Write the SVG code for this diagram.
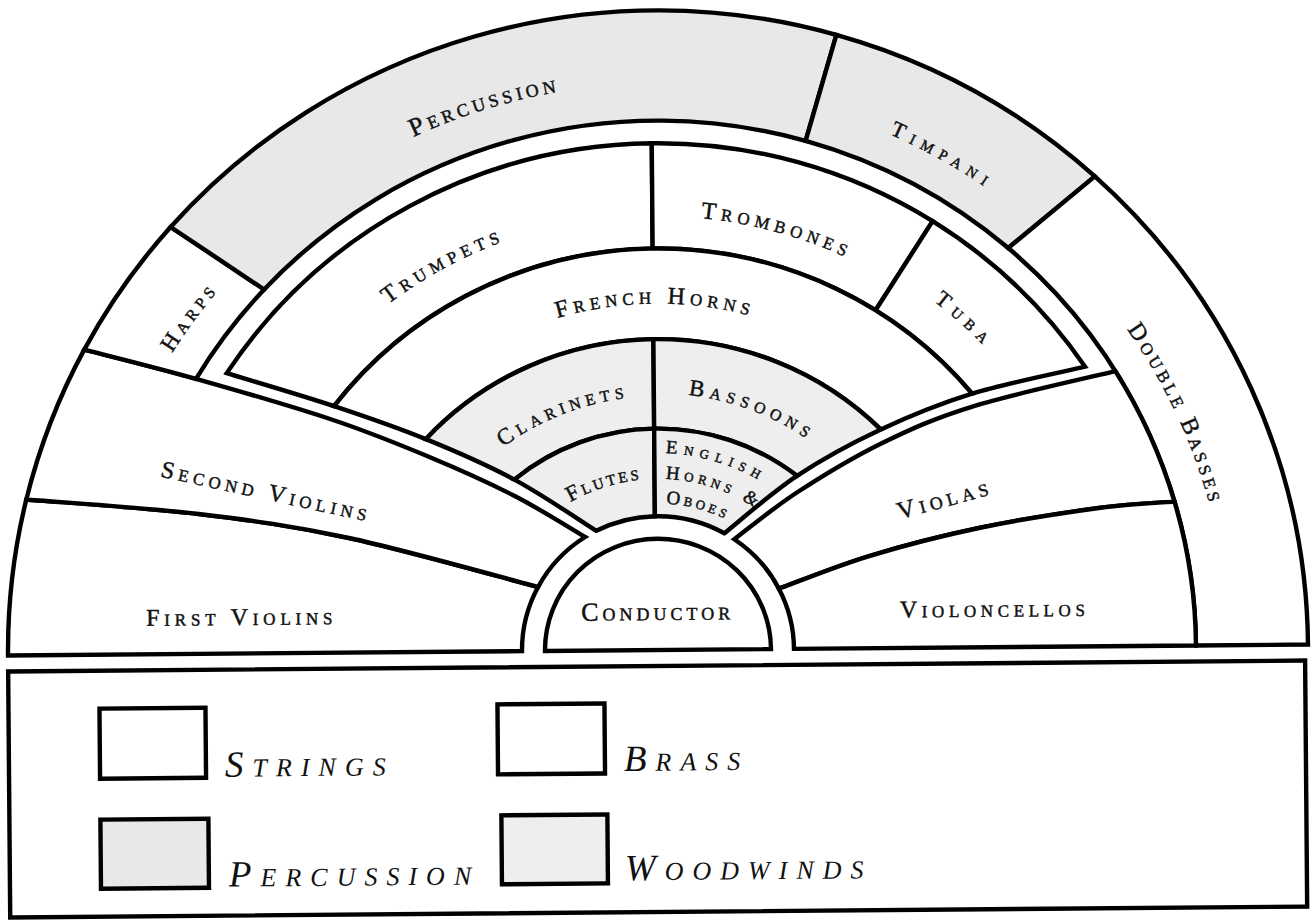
<svg xmlns="http://www.w3.org/2000/svg" width="1311" height="921" viewBox="0 0 1311 921">
<style>
.s{stroke:#000;stroke-width:4.4;stroke-linejoin:miter;stroke-miterlimit:6}
.w{fill:#fff}.p{fill:#e8e8e8}.ww{fill:#eeeeee}
.l{font-family:"Liberation Serif",serif;font-variant:small-caps;fill:#111;stroke:#111;stroke-width:0.45}
.leg{font-family:"Liberation Serif",serif;font-style:italic;font-variant:small-caps;font-size:37px;letter-spacing:9px;fill:#111}
</style>
<defs>
<path id="tp-perc" d="M311.4,197.3 A576 566.8 0 0 1 688.1,84.0"/>
<path id="tp-timp" d="M758.5,94.9 A573 563.8 0 0 1 1097.5,288.3"/>
<path id="tp-harps" d="M109.0,492.0 A572 562.8 0 0 1 340.6,181.8"/>
<path id="tp-db" d="M1066.7,257.6 A571 561.9 0 0 1 1227.4,607.9"/>
<path id="tp-trump" d="M326.7,360.6 A443 435.9 0 0 1 593.3,218.7"/>
<path id="tp-tromb" d="M628.0,217.1 A441 433.9 0 0 1 917.8,299.4"/>
<path id="tp-tuba" d="M833.4,243.3 A449 441.8 0 0 1 1058.1,449.4"/>
<path id="tp-fh" d="M537.6,324.5 A352 346.4 0 0 1 778.4,324.5"/>
<path id="tp-clar" d="M488.1,459.0 A258 253.9 0 0 1 652.6,396.2"/>
<path id="tp-bass" d="M666.0,393.3 A261 256.8 0 0 1 830.9,457.6"/>
<path id="tp-flutes" d="M552.6,513.8 A174 171.2 0 0 1 666.2,479.0"/>
<path id="tp-eng" d="M667.3,453.4 A200 196.8 0 0 1 811.2,523.5"/>
<path id="tp-horns" d="M667.0,479.0 A174 171.2 0 0 1 791.3,540.0"/>
<path id="tp-oboes" d="M667.2,503.7 A149 146.6 0 0 1 772.1,555.8"/>
</defs>
<rect width="1311" height="921" fill="#fff"/>
<g id="orchestra" transform="rotate(-0.48 658 650)">
<g id="first-violins">
<path class="s w" d="M8,650 A650 639.6 0 0 1 27.6,494.2 C56.3,496.9 146.3,503.3 200,510.2 C253.7,517.1 293.6,522.8 350,535.4 C406.4,548.0 507.2,577.5 538.6,586.0 A136 133.8 0 0 0 522,650 Z"/>
<text class="l" x="242" y="621.5" font-size="24" letter-spacing="4.8" text-anchor="middle">First Violins</text>
</g>
<g id="second-violins">
<path class="s w" d="M27.6,494.2 A650 639.6 0 0 1 86.8,344.8 C105.4,349.8 156.9,362.9 198.3,375.0 C239.7,387.1 296.2,403.95 335,417.3 C373.8,430.65 400.8,442.2 431,455.1 C461.2,468.0 490.15,481.25 516,494.8 C541.85,508.35 574.4,529.5 586.1,536.4 A136 133.8 0 0 0 538.6,586.0 C507.2,577.5 406.4,548.0 350,535.4 C293.6,522.8 253.7,517.1 200,510.2 C146.3,503.3 56.3,496.9 27.6,494.2 Z"/>
<text class="l" transform="translate(266,496) rotate(12.7)" font-size="24" letter-spacing="4.6" text-anchor="middle">Second Violins</text>
</g>
<g id="harps">
<path class="s w" d="M86.8,344.8 A650 639.6 0 0 1 174.2,222.9 L267.2,286.2 A538 529.4 0 0 0 198.3,375.0 C156.9,362.9 105.4,349.8 86.8,344.8 Z"/>
<text class="l" font-size="23" letter-spacing="4.5"><textPath href="#tp-harps" startOffset="50%" text-anchor="middle">Harps</textPath></text>
</g>
<g id="percussion">
<path class="s p" d="M174.2,222.9 A650 639.6 0 0 1 841.5,36.4 L809.9,142.1 A538 529.4 0 0 0 267.2,286.2 Z"/>
<text class="l" font-size="26" letter-spacing="4"><textPath href="#tp-perc" startOffset="50%" text-anchor="middle">Percussion</textPath></text>
</g>
<g id="timpani">
<path class="s p" d="M841.5,36.4 A650 639.6 0 0 1 1098.8,180.0 L1011.6,251.0 A538 529.4 0 0 0 809.9,142.1 Z"/>
<text class="l" font-size="22" letter-spacing="7"><textPath href="#tp-timp" startOffset="50%" text-anchor="middle">Timpani</textPath></text>
</g>
<g id="double-basses">
<path class="s w" d="M1098.8,180.0 A650 639.6 0 0 1 1308,650 L1196,650 A538 529.4 0 0 0 1011.6,251.0 Z"/>
<text class="l" font-size="24" letter-spacing="3.8"><textPath href="#tp-db" startOffset="50%" text-anchor="middle">Double Basses</textPath></text>
</g>
<g id="violas">
<path class="s w" d="M1117.7,375.0 A538 529.4 0 0 1 1175.7,505.9 C1163.1,506.8 1132.6,507.55 1100,511.7 C1067.4,515.85 1018.3,523.0 980,530.7 C941.7,538.4 903.4,548.0 870,557.8 C836.6,567.6 794.5,584.4 779.4,589.7 A136 133.8 0 0 0 735.2,539.9 C745.8,532.0 774.2,509.0 799,493.2 C823.8,477.4 854.5,459.0 884,444.9 C913.5,430.8 937.0,420.35 976,408.7 C1015.0,397.05 1094.1,380.6 1117.7,375.0 Z"/>
<text class="l" transform="translate(948,509) rotate(-14.7)" font-size="25" letter-spacing="4.5" text-anchor="middle">Violas</text>
</g>
<g id="violoncellos">
<path class="s w" d="M1175.7,505.9 A538 529.4 0 0 1 1196,650 L794,650 A136 133.8 0 0 0 779.4,589.7 C794.5,584.4 836.6,567.6 870,557.8 C903.4,548.0 941.7,538.4 980,530.7 C1018.3,523.0 1067.4,515.85 1100,511.7 C1132.6,507.55 1163.1,506.8 1175.7,505.9 Z"/>
<text class="l" x="995" y="619.5" font-size="24" letter-spacing="4.6" text-anchor="middle">Violoncellos</text>
</g>
<g id="trumpets">
<path class="s w" d="M229.05,369.5 A515 506.8 0 0 1 656,143.2 L656,248.5 A408 401.5 0 0 0 336.1,403.4 C303.0,392.1 246.9,375.2 229.05,369.5 Z"/>
<text class="l" font-size="24" letter-spacing="5.1"><textPath href="#tp-trump" startOffset="50%" text-anchor="middle">Trumpets</textPath></text>
</g>
<g id="trombones">
<path class="s w" d="M656,143.2 A515 506.8 0 0 1 936.2,223.5 L878.4,312.1 A408 401.5 0 0 0 656,248.5 Z"/>
<text class="l" font-size="24" letter-spacing="5"><textPath href="#tp-tromb" startOffset="50%" text-anchor="middle">Trombones</textPath></text>
</g>
<g id="tuba">
<path class="s w" d="M936.2,223.5 A515 506.8 0 0 1 1087.45,370.3 C1068.6,374.6 1008.35,386.1 974.2,396.2 A408 401.5 0 0 0 878.4,312.1 Z"/>
<text class="l" font-size="22" letter-spacing="6.6"><textPath href="#tp-tuba" startOffset="50%" text-anchor="middle">Tuba</textPath></text>
</g>
<g id="french-horns">
<path class="s w" d="M336.1,403.4 A408 401.5 0 0 1 974.2,396.2 C940.05,406.5 911.9,417.85 882.6,431.3 A316 310.9 0 0 0 427.6,437.2 C397.6,424.7 369.2,414.7 336.1,403.4 Z"/>
<text class="l" font-size="24" letter-spacing="4.9"><textPath href="#tp-fh" startOffset="50%" text-anchor="middle">French Horns</textPath></text>
</g>
<g id="clarinets">
<path class="s ww" d="M427.6,437.2 A316 310.9 0 0 1 656,339.1 L656,428.6 A225 221.4 0 0 0 515.8,478.4 C487.5,462.9 457.6,449.7 427.6,437.2 Z"/>
<text class="l" font-size="23" letter-spacing="4.9"><textPath href="#tp-clar" startOffset="50%" text-anchor="middle">Clarinets</textPath></text>
</g>
<g id="bassoons">
<path class="s ww" d="M656,339.1 A316 310.9 0 0 1 882.6,431.3 C853.3,444.75 824.6,459.9 798.4,477.0 A225 221.4 0 0 0 656,428.6 Z"/>
<text class="l" font-size="23" letter-spacing="5.4"><textPath href="#tp-bass" startOffset="50%" text-anchor="middle">Bassoons</textPath></text>
</g>
<g id="flutes">
<path class="s ww" d="M515.8,478.4 A225 221.4 0 0 1 656,428.6 L656,516.2 A136 133.8 0 0 0 597.3,530.3 C583.7,521.6 544.1,493.9 515.8,478.4 Z"/>
<text class="l" font-size="22" letter-spacing="2.8"><textPath href="#tp-flutes" startOffset="50%" text-anchor="middle">Flutes</textPath></text>
</g>
<g id="english-horns-oboes">
<path class="s ww" d="M656,428.6 A225 221.4 0 0 1 798.4,477.0 C772.2,494.1 737.6,524.3 725.4,533.8 A136 133.8 0 0 0 656,516.2 Z"/>
<text class="l" font-size="19" letter-spacing="6.2"><textPath href="#tp-eng">English</textPath></text>
<text class="l" font-size="19" letter-spacing="4.4"><textPath href="#tp-horns">Horns &amp;</textPath></text>
<text class="l" font-size="19" letter-spacing="3.4"><textPath href="#tp-oboes">Oboes</textPath></text>
</g>
<g id="conductor">
<path class="s w" d="M545,650 A113 111.2 0 0 1 771,650 Z"/>
<text class="l" x="658" y="620" font-size="26" letter-spacing="4" text-anchor="middle">Conductor</text>
</g>
</g>
<g id="legend" transform="rotate(-0.48 658 650)">
<rect class="s" x="8" y="666" width="1297" height="246" fill="none"/>
<g id="legend-strings">
<rect class="s w" x="99" y="704" width="106" height="70"/>
<text class="leg" x="224" y="773">Strings</text>
</g>
<g id="legend-brass">
<rect class="s w" x="497" y="703" width="107" height="70"/>
<text class="leg" x="623" y="770.7">Brass</text>
</g>
<g id="legend-percussion">
<rect class="s p" x="99" y="815" width="108" height="69"/>
<text class="leg" x="227" y="883">Percussion</text>
</g>
<g id="legend-woodwinds">
<rect class="s ww" x="500" y="814" width="106" height="69"/>
<text class="leg" x="623" y="880">Woodwinds</text>
</g>
</g>
</svg>
